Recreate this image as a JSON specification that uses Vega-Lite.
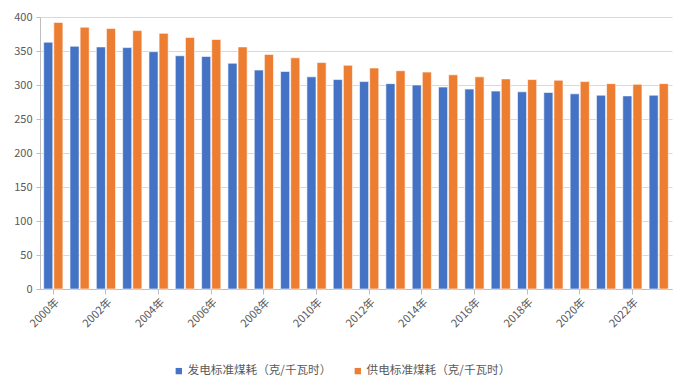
{
  "$schema": "https://vega.github.io/schema/vega-lite/v6.json",
  "width": 632,
  "height": 272,
  "autosize": "none",
  "padding": {"left": 40, "top": 17, "right": 15, "bottom": 97},
  "background": "white",
  "config": {
    "view": {"stroke": null},
    "font": "Noto Sans CJK SC",
    "axis": {"labelColor": "#595959", "labelFontSize": 11, "labelFont": "Noto Sans CJK SC"}
  },
  "data": {
    "values": [
      {"year": "2000年", "series": "发电标准煤耗（克/千瓦时）", "value": 363},
      {"year": "2000年", "series": "供电标准煤耗（克/千瓦时）", "value": 392},
      {"year": "2001年", "series": "发电标准煤耗（克/千瓦时）", "value": 357},
      {"year": "2001年", "series": "供电标准煤耗（克/千瓦时）", "value": 385},
      {"year": "2002年", "series": "发电标准煤耗（克/千瓦时）", "value": 356},
      {"year": "2002年", "series": "供电标准煤耗（克/千瓦时）", "value": 383},
      {"year": "2003年", "series": "发电标准煤耗（克/千瓦时）", "value": 355},
      {"year": "2003年", "series": "供电标准煤耗（克/千瓦时）", "value": 380},
      {"year": "2004年", "series": "发电标准煤耗（克/千瓦时）", "value": 349},
      {"year": "2004年", "series": "供电标准煤耗（克/千瓦时）", "value": 376},
      {"year": "2005年", "series": "发电标准煤耗（克/千瓦时）", "value": 343},
      {"year": "2005年", "series": "供电标准煤耗（克/千瓦时）", "value": 370},
      {"year": "2006年", "series": "发电标准煤耗（克/千瓦时）", "value": 342},
      {"year": "2006年", "series": "供电标准煤耗（克/千瓦时）", "value": 367},
      {"year": "2007年", "series": "发电标准煤耗（克/千瓦时）", "value": 332},
      {"year": "2007年", "series": "供电标准煤耗（克/千瓦时）", "value": 356},
      {"year": "2008年", "series": "发电标准煤耗（克/千瓦时）", "value": 322},
      {"year": "2008年", "series": "供电标准煤耗（克/千瓦时）", "value": 345},
      {"year": "2009年", "series": "发电标准煤耗（克/千瓦时）", "value": 320},
      {"year": "2009年", "series": "供电标准煤耗（克/千瓦时）", "value": 340},
      {"year": "2010年", "series": "发电标准煤耗（克/千瓦时）", "value": 312},
      {"year": "2010年", "series": "供电标准煤耗（克/千瓦时）", "value": 333},
      {"year": "2011年", "series": "发电标准煤耗（克/千瓦时）", "value": 308},
      {"year": "2011年", "series": "供电标准煤耗（克/千瓦时）", "value": 329},
      {"year": "2012年", "series": "发电标准煤耗（克/千瓦时）", "value": 305},
      {"year": "2012年", "series": "供电标准煤耗（克/千瓦时）", "value": 325},
      {"year": "2013年", "series": "发电标准煤耗（克/千瓦时）", "value": 302},
      {"year": "2013年", "series": "供电标准煤耗（克/千瓦时）", "value": 321},
      {"year": "2014年", "series": "发电标准煤耗（克/千瓦时）", "value": 300},
      {"year": "2014年", "series": "供电标准煤耗（克/千瓦时）", "value": 319},
      {"year": "2015年", "series": "发电标准煤耗（克/千瓦时）", "value": 297},
      {"year": "2015年", "series": "供电标准煤耗（克/千瓦时）", "value": 315},
      {"year": "2016年", "series": "发电标准煤耗（克/千瓦时）", "value": 294},
      {"year": "2016年", "series": "供电标准煤耗（克/千瓦时）", "value": 312},
      {"year": "2017年", "series": "发电标准煤耗（克/千瓦时）", "value": 291},
      {"year": "2017年", "series": "供电标准煤耗（克/千瓦时）", "value": 309},
      {"year": "2018年", "series": "发电标准煤耗（克/千瓦时）", "value": 290},
      {"year": "2018年", "series": "供电标准煤耗（克/千瓦时）", "value": 308},
      {"year": "2019年", "series": "发电标准煤耗（克/千瓦时）", "value": 289},
      {"year": "2019年", "series": "供电标准煤耗（克/千瓦时）", "value": 307},
      {"year": "2020年", "series": "发电标准煤耗（克/千瓦时）", "value": 287},
      {"year": "2020年", "series": "供电标准煤耗（克/千瓦时）", "value": 305},
      {"year": "2021年", "series": "发电标准煤耗（克/千瓦时）", "value": 285},
      {"year": "2021年", "series": "供电标准煤耗（克/千瓦时）", "value": 302},
      {"year": "2022年", "series": "发电标准煤耗（克/千瓦时）", "value": 284},
      {"year": "2022年", "series": "供电标准煤耗（克/千瓦时）", "value": 301},
      {"year": "2023年", "series": "发电标准煤耗（克/千瓦时）", "value": 285},
      {"year": "2023年", "series": "供电标准煤耗（克/千瓦时）", "value": 302}
    ]
  },
  "mark": {"type": "bar", "stroke": "#ffffff", "strokeOpacity": 0.6, "strokeWidth": 1},
  "encoding": {
    "x": {
      "field": "year",
      "type": "nominal",
      "sort": null,
      "title": null,
      "scale": {"paddingInner": 0.27, "paddingOuter": 0.14},
      "axis": {
        "values": ["2000年", "2002年", "2004年", "2006年", "2008年", "2010年", "2012年", "2014年", "2016年", "2018年", "2020年", "2022年"],
        "labelAngle": -45,
        "domainColor": "#bfbfbf",
        "tickColor": "#bfbfbf",
        "tickSize": 5,
        "labelPadding": 2
      }
    },
    "xOffset": {
      "field": "series",
      "type": "nominal",
      "sort": ["发电标准煤耗（克/千瓦时）", "供电标准煤耗（克/千瓦时）"],
      "scale": {"paddingInner": 0.1}
    },
    "y": {
      "field": "value",
      "type": "quantitative",
      "title": null,
      "scale": {"domain": [0, 400], "nice": false},
      "axis": {
        "values": [0, 50, 100, 150, 200, 250, 300, 350, 400],
        "gridColor": "#d9d9d9",
        "domainColor": "#bfbfbf",
        "tickColor": "#bfbfbf",
        "tickSize": 4,
        "labelPadding": 4
      }
    },
    "color": {
      "field": "series",
      "type": "nominal",
      "sort": ["发电标准煤耗（克/千瓦时）", "供电标准煤耗（克/千瓦时）"],
      "scale": {"range": ["#4472C4", "#ED7D31"]},
      "legend": {
        "title": null,
        "orient": "none",
        "direction": "horizontal",
        "legendX": 133,
        "legendY": 348,
        "symbolType": "square",
        "symbolSize": 40,
        "symbolStrokeWidth": 0,
        "labelFontSize": 11.6,
        "labelColor": "#595959",
        "columnPadding": 20,
        "labelOffset": 3
      }
    }
  }
}
